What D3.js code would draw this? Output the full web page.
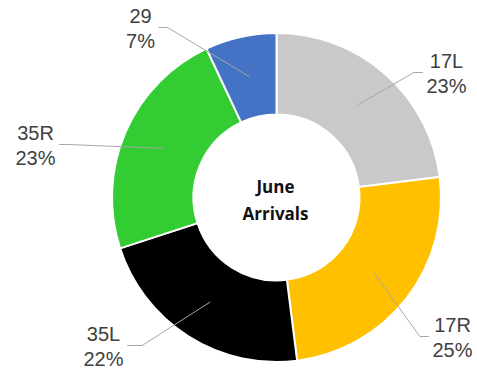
<!DOCTYPE html>
<html>
<head>
<meta charset="utf-8">
<script src="https://cdn.jsdelivr.net/npm/d3@7"></script>
<style>
  html, body { margin: 0; padding: 0; background: #ffffff; }
  svg { display: block; }
</style>
</head>
<body>
<script>
// Runway share of June arrivals
const runways = ["17L", "17R", "35L", "35R", "29"];
const shares = [23, 25, 22, 23, 7];
const sliceColors = ["#C9C9C9", "#FFC000", "#000000", "#33CC33", "#4472C4"];

// Label block placement (offset of label block centre from the donut centre)
const labelOffsets = [
  [170, -125], [176, 139], [-173, 148], [-241, -53], [-136, -170]
];

const W = 477, H = 371;
const cx = 276.5, cy = 197.5;
const outerR = 164.5, innerR = 83;

const svg = d3.select("body").append("svg")
  .attr("width", W).attr("height", H);

const g = svg.append("g").attr("transform", `translate(${cx},${cy})`);

const data = runways.map((name, i) => ({ name, value: shares[i], color: sliceColors[i], off: labelOffsets[i] }));

const pie = d3.pie().sort(null).value(d => d.value);
const arc = d3.arc().innerRadius(innerR).outerRadius(outerR);

const arcs = pie(data);

g.selectAll("path.slice")
  .data(arcs)
  .join("path")
  .attr("class", "slice")
  .attr("d", arc)
  .attr("fill", d => d.data.color)
  .attr("stroke", "#ffffff")
  .attr("stroke-width", 2);

// Leader lines and labels
const lineH = 25;
const fontSize = 20;
const labelG = g.append("g");

arcs.forEach(a => {
  const c = arc.centroid(a);
  const [ox, oy] = a.data.off;
  const total = d3.sum(shares);
  const pct = Math.round(a.data.value / total * 100) + "%";
  const txtW = Math.max(a.data.name.length, pct.length) * 11.1 + 6;
  const right = ox > c[0] ? false : true; // label sits left of the centroid
  const edgeX = right ? ox + txtW / 2 + 4 : ox - txtW / 2 - 4;
  const elbowX = right ? edgeX + (ox < -150 && oy > 0 ? 15 : 9) : edgeX - 9;
  labelG.append("polyline")
    .attr("points", [[edgeX, oy], [elbowX, oy], c].map(p => p.join(",")).join(" "))
    .attr("fill", "none")
    .attr("stroke", "#A6A6A6")
    .attr("stroke-width", 1);

  const t = labelG.append("text")
    .attr("x", ox)
    .attr("y", oy)
    .attr("text-anchor", "middle")
    .attr("font-family", "Liberation Sans, Arial, sans-serif")
    .attr("font-size", fontSize)
    .attr("fill", "#404040");
  t.append("tspan").attr("x", ox).attr("y", oy - 5).text(a.data.name);
  t.append("tspan").attr("x", ox).attr("y", oy - 5 + lineH).text(pct);
});

// Centre title
const title = g.append("text")
  .attr("text-anchor", "middle")
  .attr("font-family", "'Open Sans', Lato, sans-serif")
  .attr("font-weight", "bold")
  .attr("font-size", 17)
  .attr("fill", "#111111");
title.append("tspan").attr("x", -1).attr("y", -4.5).text("June");
title.append("tspan").attr("x", -1).attr("y", 22.5).text("Arrivals");
</script>
</body>
</html>
